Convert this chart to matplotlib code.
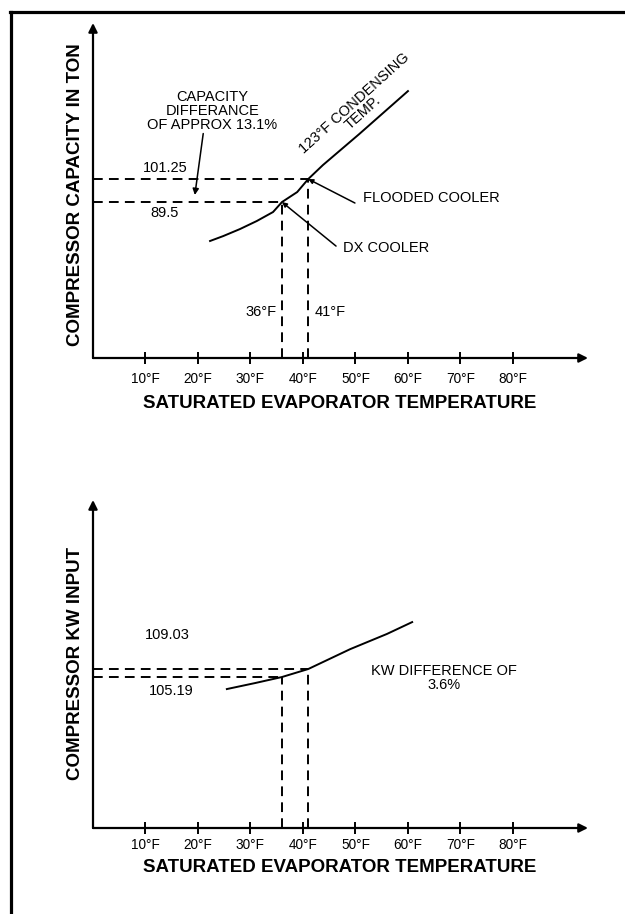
import numpy as np
import matplotlib
matplotlib.use("Agg")
import matplotlib.pyplot as plt
from matplotlib.lines import Line2D

plt.rcParams['font.family'] = ['Liberation Sans', 'DejaVu Sans']

W, H = 625, 914

# x ticks (deg F)
tick_temps = [10, 20, 30, 40, 50, 60, 70, 80]
tick_labels = ["10°F", "20°F", "30°F", "40°F", "50°F", "60°F", "70°F", "80°F"]

# capacity curve (123F condensing)
cap_temp = [22.3, 24.8, 28.0, 31.2, 34.3, 36.0, 38.9, 41.0, 43.8, 50.7, 60.0]
cap_vals = [69.6, 72.1, 75.7, 79.8, 84.4, 89.5, 94.6, 101.25, 108.4, 124.2, 146.2]

# kw input curve
kw_temp = [25.5, 30.9, 36.0, 41.0, 49.0, 56.0, 60.8]
kw_vals = [99.4, 102.3, 105.19, 109.03, 118.6, 125.9, 131.6]

dx_temp, flooded_temp = 36, 41
cap_dx, cap_flooded = 89.5, 101.25
kw_dx, kw_flooded = 105.19, 109.03


def px_ax(fig, x0, y_axis, x1, y_top):
    return fig.add_axes([x0 / W, 1 - y_axis / H, (x1 - x0) / W, (y_axis - y_top) / H])


def setup(ax, ylim, pad):
    ax.set_xlim(0, 94.3)
    ax.set_ylim(*ylim)
    for s in ax.spines.values():
        s.set_visible(False)
    ax.set_xticks(tick_temps)
    ax.set_xticklabels(tick_labels, fontsize=9.8)
    ax.set_yticks([])
    ax.tick_params(axis='x', direction='inout', length=9, width=1.4, pad=pad)
    arr = dict(arrowstyle='-|>', lw=1.6, color='k', mutation_scale=13, shrinkA=0, shrinkB=0)
    ax.annotate("", xy=(1, 0), xytext=(0, 0), xycoords='axes fraction', arrowprops=arr)
    ax.annotate("", xy=(0, 1), xytext=(0, 0), xycoords='axes fraction', arrowprops=arr)


def guides(ax, t1, v1, t2, v2, y0):
    dash = dict(color='k', lw=1.4, dashes=(5, 3.2))
    ax.plot([0, t1], [v1, v1], **dash)
    ax.plot([0, t2], [v2, v2], **dash)
    ax.plot([t1, t1], [y0, v1], **dash)
    ax.plot([t2, t2], [y0, v2], **dash)


fig = plt.figure(figsize=(W / 100, H / 100), dpi=100)

# page border
fig.add_artist(Line2D([10 / W, 1], [1 - 12 / H, 1 - 12 / H], transform=fig.transFigure, lw=2.3, color='k'))
fig.add_artist(Line2D([11 / W, 11 / W], [1 - 12 / H, 0], transform=fig.transFigure, lw=2.3, color='k'))

# ---- upper: capacity ----
ax1 = px_ax(fig, 93, 358, 588, 23)
setup(ax1, (9.8, 181), 5.5)
ax1.plot(cap_temp, cap_vals, color='k', lw=1.4)
guides(ax1, dx_temp, cap_dx, flooded_temp, cap_flooded, 9.8)

fs = 10.5
ax1.text(13.7, cap_flooded + 5.6, "101.25", fontsize=fs, ha='center', va='center')
ax1.text(13.7, cap_dx - 5.6, "89.5", fontsize=fs, ha='center', va='center')
ax1.text(22.7, 136, "CAPACITY\nDIFFERANCE\nOF APPROX 13.1%", fontsize=fs, ha='center', va='center',
         linespacing=1.0)
ax1.annotate("", xy=(19.4, 93.1), xytext=(21.0, 124.5),
             arrowprops=dict(arrowstyle='-|>', lw=1.1, color='k', mutation_scale=9, shrinkA=0, shrinkB=0))
ax1.text(50.6, 137.5, "123°F CONDENSING\nTEMP.", fontsize=fs, ha='center', va='center',
         rotation=42, rotation_mode='anchor', linespacing=0.95)
ax1.text(51.4, 91.5, "FLOODED COOLER", fontsize=fs, ha='left', va='center')
ax1.annotate("", xy=(flooded_temp, cap_flooded), xytext=(49.9, 89.0),
             arrowprops=dict(arrowstyle='-|>', lw=1.1, color='k', mutation_scale=7, shrinkA=0, shrinkB=0))
ax1.text(47.6, 66.0, "DX COOLER", fontsize=fs, ha='left', va='center')
ax1.annotate("", xy=(dx_temp, cap_dx), xytext=(46.3, 67.0),
             arrowprops=dict(arrowstyle='-|>', lw=1.1, color='k', mutation_scale=7, shrinkA=0, shrinkB=0))
ax1.text(35.0, 33.3, "36°F", fontsize=fs, ha='right', va='center')
ax1.text(42.3, 33.3, "41°F", fontsize=fs, ha='left', va='center')

# ---- lower: kw input ----
ax2 = px_ax(fig, 93, 828, 588, 500)
setup(ax2, (32.6, 190.3), 3)
ax2.plot(kw_temp, kw_vals, color='k', lw=1.4)
guides(ax2, dx_temp, kw_dx, flooded_temp, kw_flooded, 32.6)
ax2.text(14.1, 125.4, "109.03", fontsize=fs, ha='center', va='center')
ax2.text(14.9, 98.5, "105.19", fontsize=fs, ha='center', va='center')
ax2.text(66.9, 104.7, "KW DIFFERENCE OF\n3.6%", fontsize=fs, ha='center', va='center', linespacing=1.0)

# axis titles
bold = dict(fontsize=13.5, fontweight='bold', ha='center', va='center')
fig.text(76 / W, 1 - 195 / H, "COMPRESSOR CAPACITY IN TON", rotation=90, **bold)
fig.text(340 / W, 1 - 403 / H, "SATURATED EVAPORATOR TEMPERATURE", **bold)
fig.text(76 / W, 1 - 663 / H, "COMPRESSOR KW INPUT", rotation=90, **bold)
fig.text(340 / W, 1 - 868 / H, "SATURATED EVAPORATOR TEMPERATURE", **bold)

fig.savefig("out.png", dpi=100)
